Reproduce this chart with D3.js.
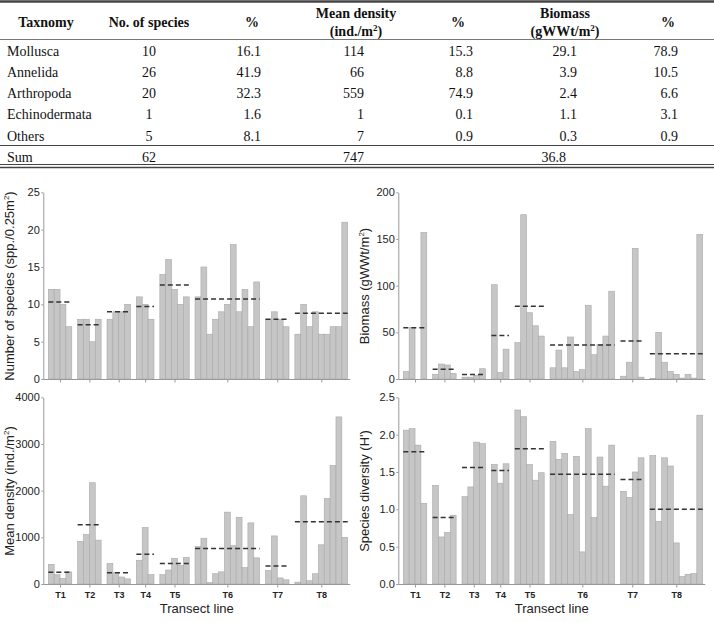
<!DOCTYPE html>
<html>
<head>
<meta charset="utf-8">
<script src="https://cdn.jsdelivr.net/npm/d3@7/dist/d3.min.js"></script>
<style>
  body { margin: 0; background: #fff; }
  svg { display: block; }
</style>
</head>
<body>
<svg id="chart" width="714" height="622"></svg>
<script>
// ---------------- Table data ----------------
const taxa        = ["Mollusca", "Annelida", "Arthropoda", "Echinodermata", "Others"];
const nSpecies    = ["10", "26", "20", "1", "5"];
const pctSpecies  = ["16.1", "41.9", "32.3", "1.6", "8.1"];
const meanDensity = ["114", "66", "559", "1", "7"];
const pctDensity  = ["15.3", "8.8", "74.9", "0.1", "0.9"];
const biomassTab  = ["29.1", "3.9", "2.4", "1.1", "0.3"];
const pctBiomass  = ["78.9", "10.5", "6.6", "3.1", "0.9"];
const sumRow      = ["Sum", "62", "747", "36.8"];

// ---------------- Chart data ----------------
const transects  = ["T1", "T2", "T3", "T4", "T5", "T6", "T7", "T8"];
const groupSizes = [4, 4, 4, 3, 5, 11, 4, 9];

const speciesVals = [12, 12, 10, 7,  8, 8, 5, 8,  8, 9, 9, 10,  11, 10, 8,  14, 16, 12, 10, 11,
  11, 15, 6, 8, 9, 10, 18, 9, 12, 7, 13,  8, 9, 8, 7,  6, 10, 7, 9, 6, 6, 7, 7, 21];
const speciesMean = [10.3, 7.25, 9.0, 9.7, 12.6, 10.7, 8.0, 8.8];

const biomassVals = [8, 55, 0, 157,  5, 16, 15, 6,  2, 2, 4, 11,  101, 7, 32,  39, 176, 71, 57, 46,
  12, 31, 12, 45, 8, 10, 79, 26, 37, 46, 94,  3, 18, 140, 2,  0.5, 50, 18, 8, 5, 1, 5, 1, 155];
const biomassMean = [55, 10.5, 4.8, 46.7, 77.8, 36.4, 40.8, 27];

const densityVals = [420, 200, 120, 260,  910, 1060, 2170, 940,  440, 250, 150, 110,  510, 1210, 200,
  200, 300, 550, 400, 570,  800, 980, 30, 220, 260, 1540, 820, 1430, 350, 1310, 560,
  290, 1030, 130, 90,  40, 1890, 70, 220, 840, 1830, 2540, 3580, 1000];
const densityMean = [250, 1270, 240, 640, 440, 760, 385, 1334];

const diversityVals = [2.06, 2.08, 1.86, 1.08,  1.32, 0.63, 0.69, 0.92,  1.17, 1.30, 1.90, 1.88,  1.60, 1.35, 1.61,
  2.33, 2.24, 1.60, 1.39, 1.49,  1.91, 1.67, 1.75, 0.93, 1.71, 0.43, 2.08, 0.89, 1.70, 1.31, 1.86,
  1.24, 1.16, 1.50, 1.69,  1.72, 0.84, 1.69, 1.58, 0.55, 0.10, 0.13, 0.14, 2.26];
const diversityMean = [1.77, 0.89, 1.56, 1.52, 1.81, 1.47, 1.40, 1.00];

const speciesTicks   = [0, 5, 10, 15, 20, 25];
const biomassTicks   = [0, 50, 100, 150, 200];
const densityTicks   = [0, 1000, 2000, 3000, 4000];
const diversityTicks = [0, 0.5, 1.0, 1.5, 2.0, 2.5];

// ---------------- Drawing ----------------
const svg = d3.select("#chart");
svg.append("rect").attr("width", 714).attr("height", 622).attr("fill", "#fff");

// ---- Table ----
const tbl = svg.append("g").attr("font-family", "'Liberation Serif', 'Times New Roman', serif")
  .attr("font-size", 14).attr("fill", "#111");
const rowY = d3.scaleLinear().domain([0, 4]).range([50.7, 135.7]);
const hdrY = 21.7;

function hdrText(x, lines) {
  const t = tbl.append("text").attr("x", x).attr("text-anchor", "middle").attr("font-weight", "bold");
  if (lines.length === 1) {
    t.attr("y", hdrY).attr("dy", "0.35em").text(lines[0]);
  } else {
    t.append("tspan").attr("x", x).attr("y", 13.3).attr("dy", "0.35em").text(lines[0]);
    t.append("tspan").attr("x", x).attr("y", 31.5).attr("dy", "0.35em").text(lines[1][0]);
    t.append("tspan").attr("font-size", 9).attr("dy", "-5").text("2");
    t.append("tspan").attr("dy", "5").text(")");
  }
}
hdrText(46, ["Taxnomy"]);
hdrText(149, ["No. of species"]);
hdrText(252, ["%"]);
hdrText(356, ["Mean density", ["(ind./m"]]);
hdrText(458, ["%"]);
hdrText(565, ["Biomass", ["(gWWt/m"]]);
hdrText(668, ["%"]);

const cols = [
  {vals: taxa, x: 7, anchor: "start"},
  {vals: nSpecies, x: 149, anchor: "middle"},
  {vals: pctSpecies, x: 261, anchor: "end"},
  {vals: meanDensity, x: 364, anchor: "end"},
  {vals: pctDensity, x: 473, anchor: "end"},
  {vals: biomassTab, x: 577, anchor: "end"},
  {vals: pctBiomass, x: 678, anchor: "end"}
];
cols.forEach(c => {
  tbl.selectAll(null).data(c.vals).enter().append("text")
    .attr("x", c.x).attr("y", (d, i) => rowY(i)).attr("dy", "0.35em")
    .attr("text-anchor", c.anchor).text(d => d);
});
const sumY = 156.7;
tbl.append("text").attr("x", 7).attr("y", sumY).attr("dy", "0.35em").text(sumRow[0]);
tbl.append("text").attr("x", 149).attr("y", sumY).attr("dy", "0.35em").attr("text-anchor", "middle").text(sumRow[1]);
tbl.append("text").attr("x", 364).attr("y", sumY).attr("dy", "0.35em").attr("text-anchor", "end").text(sumRow[2]);
tbl.append("text").attr("x", 566).attr("y", sumY).attr("dy", "0.35em").attr("text-anchor", "end").text(sumRow[3]);

function hline(y, w, c) {
  svg.append("line").attr("x1", 0).attr("x2", 714).attr("y1", y).attr("y2", y)
    .attr("stroke", c).attr("stroke-width", w);
}
hline(1.5, 2.5, "#444");
hline(39.5, 1, "#777");
hline(145.5, 1, "#444");
hline(164.5, 1.2, "#444");
hline(167.5, 1.5, "#444");

// ---- Bar panels ----
// slot positions: bars of each group contiguous, one empty slot between groups
const slots = [];
const groupOf = [];
let s = 0;
groupSizes.forEach((n, g) => {
  for (let j = 0; j < n; j++) { slots.push(s++); groupOf.push(g); }
  s++;
});
const nSlots = s - 1; // 51

function panel(cfg) {
  const g = svg.append("g");
  const x = d3.scaleBand().domain(d3.range(nSlots)).range([cfg.axisX + 5, cfg.axisX + 304.4]).padding(0);
  const y = d3.scaleLinear().domain([0, cfg.ticks[cfg.ticks.length - 1]]).range([cfg.y0, cfg.y0 - 186.7]);

  // bars
  g.selectAll("rect.bar").data(cfg.values).enter().append("rect")
    .attr("class", "bar")
    .attr("x", (d, i) => x(slots[i]))
    .attr("width", x.bandwidth())
    .attr("y", d => y(d))
    .attr("height", d => cfg.y0 - y(d))
    .attr("fill", "#c6c6c6")
    .attr("stroke", "#a8a8a8")
    .attr("stroke-width", 0.6);

  // group mean dashed lines
  const starts = [], ends = [], centers = [];
  groupSizes.forEach((n, gi) => {
    const idx = groupOf.indexOf(gi);
    const a = x(slots[idx]);
    const b = x(slots[idx + n - 1]) + x.bandwidth();
    starts.push(a); ends.push(b); centers.push((a + b) / 2);
  });
  g.selectAll("line.mean").data(cfg.means).enter().append("line")
    .attr("x1", (d, i) => starts[i]).attr("x2", (d, i) => ends[i])
    .attr("y1", d => y(d)).attr("y2", d => y(d))
    .attr("stroke", "#333").attr("stroke-width", 1.5).attr("stroke-dasharray", "5,3");

  // y axis
  const fmt = cfg.fmt || (d => d);
  const ya = g.append("g").attr("transform", `translate(${cfg.axisX},0)`)
    .call(d3.axisLeft(y).tickValues(cfg.ticks).tickFormat(fmt).tickSize(2).tickSizeOuter(0).tickPadding(1.5));
  ya.select(".domain").attr("stroke", "#999");
  ya.selectAll(".tick line").attr("stroke", "#999");
  ya.selectAll(".tick text").attr("font-family", "'Liberation Sans', Arial, sans-serif")
    .attr("font-size", 11).attr("fill", "#222");

  // x axis (ticks at transect centers)
  const xc = d3.scaleOrdinal().domain(transects).range(centers);
  const xa = g.append("g").attr("transform", `translate(0,${cfg.y0 + 0.5})`)
    .call(d3.axisBottom(xc).tickSize(3).tickSizeOuter(0).tickPadding(4)
      .tickFormat(cfg.showX ? (d => d) : () => ""));
  xa.select(".domain").remove();
  xa.selectAll(".tick line").attr("stroke", "#999");
  xa.selectAll(".tick text").attr("font-family", "'Liberation Sans', Arial, sans-serif")
    .attr("font-size", 9).attr("font-weight", "bold").attr("fill", "#222");
  g.append("line").attr("x1", cfg.axisX).attr("x2", cfg.axisX + 307)
    .attr("y1", cfg.y0 + 0.5).attr("y2", cfg.y0 + 0.5).attr("stroke", "#999");

  // y title
  const tt = g.append("text")
    .attr("transform", `translate(${cfg.axisX - 34},${cfg.y0 - 93}) rotate(-90)`)
    .attr("text-anchor", "middle").attr("dy", "0.35em")
    .attr("font-family", "'Liberation Sans', Arial, sans-serif")
    .attr("font-size", 13).attr("fill", "#222");
  tt.append("tspan").text(cfg.title[0]);
  if (cfg.title.length > 1) {
    tt.append("tspan").attr("font-size", 8).attr("dy", "-5").text(cfg.title[1]);
    tt.append("tspan").attr("dy", "5").text(cfg.title[2]);
  }

  if (cfg.showX) {
    g.append("text").attr("x", cfg.axisX + 153.5).attr("y", 608).attr("dy", "0.35em")
      .attr("text-anchor", "middle")
      .attr("font-family", "'Liberation Sans', Arial, sans-serif")
      .attr("font-size", 13).attr("fill", "#222").text("Transect line");
  }
}

panel({axisX: 43.3, y0: 379, values: speciesVals, means: speciesMean, ticks: speciesTicks,
  title: ["Number of species (spp./0.25m", "2", ")"], showX: false});
panel({axisX: 398.3, y0: 379, values: biomassVals, means: biomassMean, ticks: biomassTicks,
  title: ["Biomass (gWWt/m", "2", ")"], showX: false});
panel({axisX: 43.3, y0: 584, values: densityVals, means: densityMean, ticks: densityTicks,
  title: ["Mean density (ind./m", "2", ")"], showX: true});
panel({axisX: 398.3, y0: 584, values: diversityVals, means: diversityMean, ticks: diversityTicks,
  fmt: d3.format(".1f"), title: ["Species diversity (H')"], showX: true});
</script>
</body>
</html>
